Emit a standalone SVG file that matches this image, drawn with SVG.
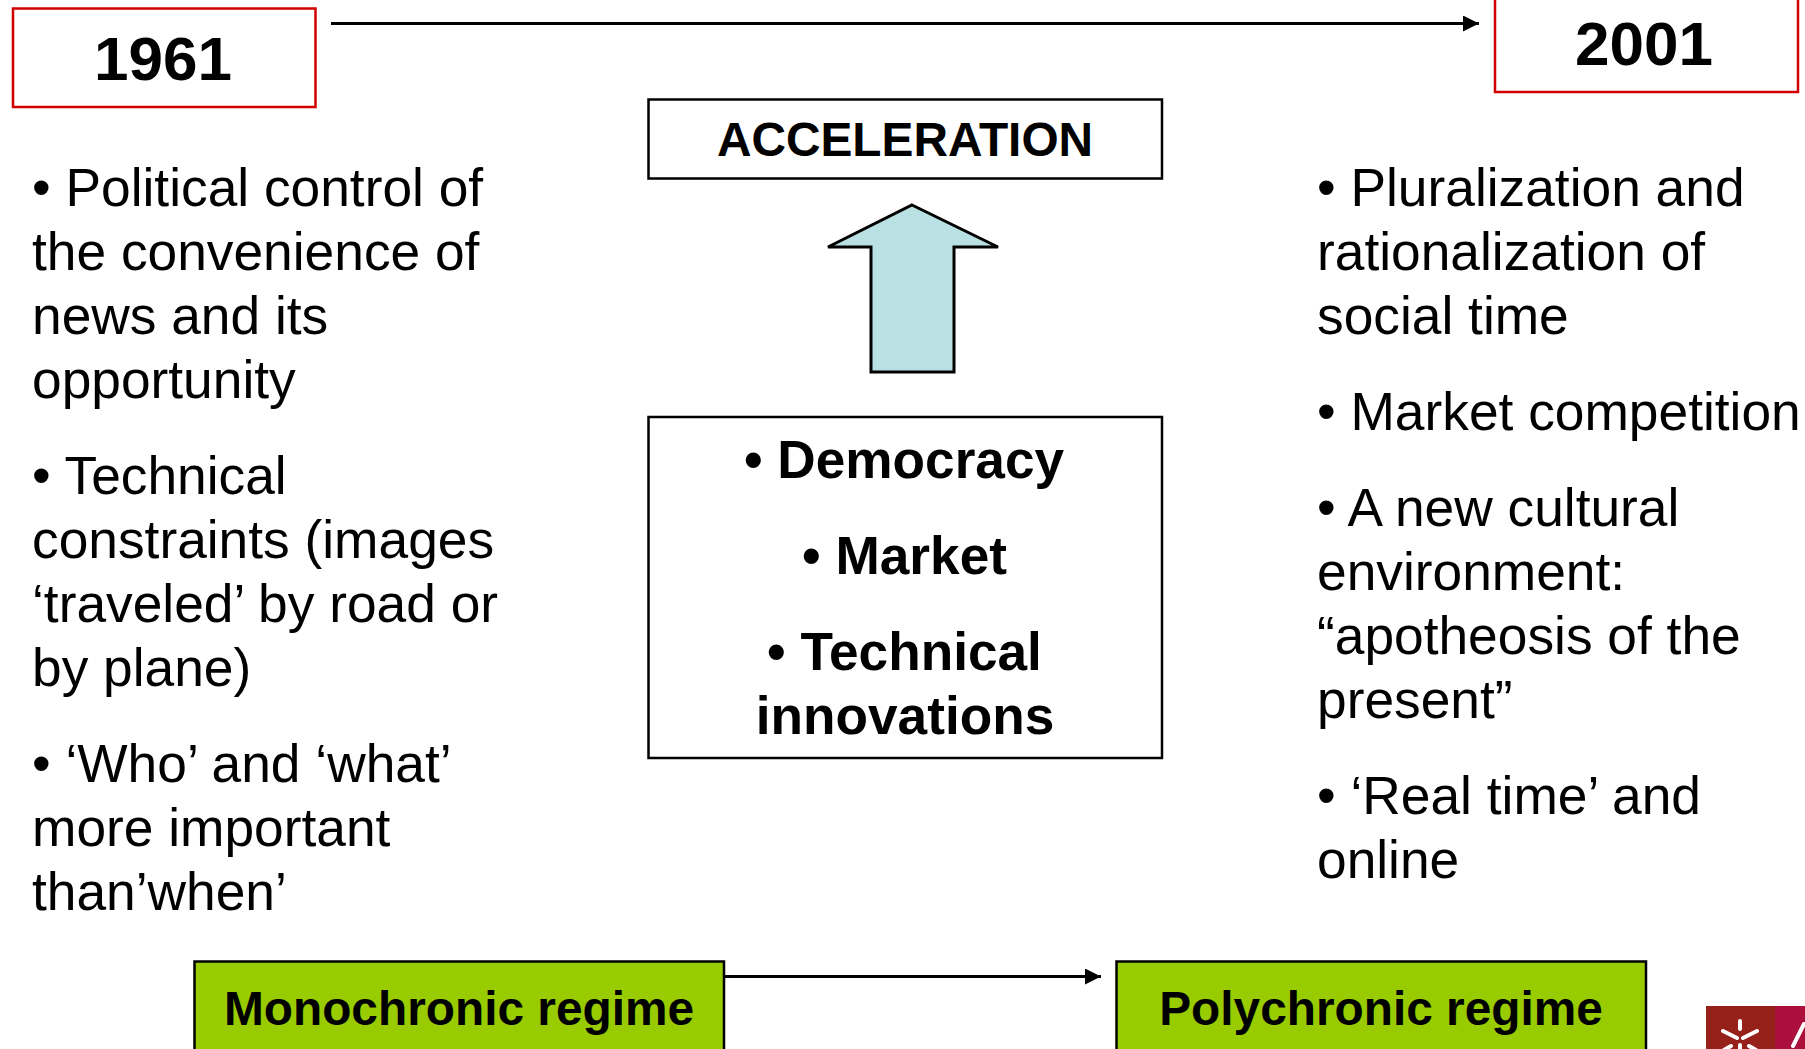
<svg xmlns="http://www.w3.org/2000/svg" width="1805" height="1049" viewBox="0 0 1805 1049">
<defs>
<marker id="ah" markerUnits="userSpaceOnUse" markerWidth="16" markerHeight="16" refX="16" refY="8" orient="auto"><path d="M0 0L16 8L0 16Z" fill="#000"/></marker>
</defs>
<style>
text{font-family:"Liberation Sans",Arial,sans-serif;fill:#000}
.b{font-size:53.3px}
.c{font-size:53.2px;font-weight:bold;text-anchor:middle}
.y{font-size:62px;font-weight:bold;text-anchor:middle}
.g{font-size:47.8px;font-weight:bold;text-anchor:middle}
.red{fill:#fff;stroke:#d00000;stroke-width:2.5}
.blk{fill:#fff;stroke:#000;stroke-width:2.5}
.grn{fill:#99cc00;stroke:#000;stroke-width:2.5}
</style>
<rect width="1805" height="1049" fill="#fff"/>
<g id="connectors" fill="none" stroke="#000" stroke-width="3">
<line x1="331" y1="23.500" x2="1479" y2="23.500" marker-end="url(#ah)"/>
<line x1="724" y1="976.500" x2="1101" y2="976.500" marker-end="url(#ah)"/>
</g>
<g id="node-1961"><rect class="red" x="13" y="8.500" width="302.500" height="98.500"/><text class="y" x="163" y="80">1961</text></g>
<g id="node-2001"><rect class="red" x="1495" y="-10" width="303" height="102"/><text class="y" x="1644" y="65">2001</text></g>
<g id="node-acceleration"><rect class="blk" x="648.500" y="99.500" width="513.500" height="79"/><text class="g" x="905" y="156">ACCELERATION</text></g>
<g id="node-up-arrow"><path d="M912 205L998 247H954V372H871V247H828Z" fill="#b9e0e3" stroke="#000" stroke-width="3"/></g>
<g id="node-drivers"><rect class="blk" x="648.500" y="417" width="513.500" height="341"/>
<text class="c" x="904" y="478">• Democracy</text>
<text class="c" x="904.500" y="574">• Market</text>
<text class="c" x="904.500" y="670">• Technical</text>
<text class="c" x="905" y="734">innovations</text></g>
<g id="node-left-list">
<text class="b" x="32" y="206">• Political control of</text>
<text class="b" x="32" y="270">the convenience of</text>
<text class="b" x="32" y="334">news and its</text>
<text class="b" x="32" y="398">opportunity</text>
<text class="b" x="32" y="494">• Technical</text>
<text class="b" x="32" y="558">constraints (images</text>
<text class="b" x="32" y="622">‘traveled’ by road or</text>
<text class="b" x="32" y="686">by plane)</text>
<text class="b" x="32" y="782">• ‘Who’ and ‘what’</text>
<text class="b" x="32" y="846">more important</text>
<text class="b" x="32" y="910">than’when’</text>
</g>
<g id="node-right-list">
<text class="b" x="1317" y="206">• Pluralization and</text>
<text class="b" x="1317" y="270">rationalization of</text>
<text class="b" x="1317" y="334">social time</text>
<text class="b" x="1317" y="430">• Market competition</text>
<text class="b" x="1317" y="526">• A new cultural</text>
<text class="b" x="1317" y="590">environment:</text>
<text class="b" x="1317" y="654">“apotheosis of the</text>
<text class="b" x="1317" y="718">present”</text>
<text class="b" x="1317" y="814">• ‘Real time’ and</text>
<text class="b" x="1317" y="878">online</text>
</g>
<g id="node-mono"><rect class="grn" x="194.500" y="961.500" width="529.500" height="100"/><text class="g" x="459" y="1025">Monochronic regime</text></g>
<g id="node-poly"><rect class="grn" x="1116.500" y="961.500" width="529.500" height="100"/><text class="g" x="1381" y="1025">Polychronic regime</text></g>
<g id="node-logo">
<rect x="1706" y="1006" width="69" height="43" fill="#96201a"/>
<rect x="1775" y="1006" width="30" height="43" fill="#ab0f3c"/>
<g stroke="#fff" stroke-width="4" stroke-linecap="round" fill="none">
<path d="M1740 1021V1029M1723 1031L1737 1038M1757 1031L1743 1038M1724 1050L1731 1046M1756 1050L1749 1046M1740 1045V1050M1804 1024L1793 1046"/>
</g>
</g>
</svg>
